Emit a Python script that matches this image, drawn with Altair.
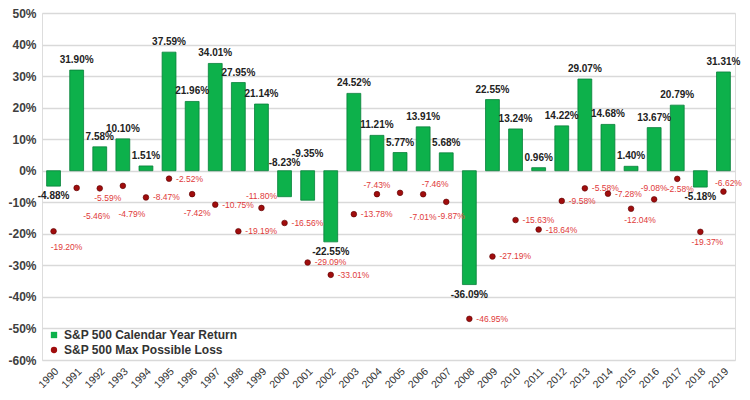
import altair as alt
import pandas as pd

years = list(range(1990, 2020))
returns = [-4.88, 31.90, 7.58, 10.10, 1.51, 37.59, 21.96, 34.01, 27.95, 21.14,
           -8.23, -9.35, -22.55, 24.52, 11.21, 5.77, 13.91, 5.68, -36.09, 22.55,
           13.24, 0.96, 14.22, 29.07, 14.68, 1.40, 13.67, 20.79, -5.18, 31.31]
max_loss = [-19.20, -5.46, -5.59, -4.79, -8.47, -2.52, -7.42, -10.75, -19.19, -11.80,
            -16.56, -29.09, -33.01, -13.78, -7.43, -7.01, -7.46, -9.87, -46.95, -27.19,
            -15.63, -18.64, -9.58, -5.58, -7.28, -12.04, -9.08, -2.58, -19.37, -6.62]
y_ticks = [50, 40, 30, 20, 10, 0, -10, -20, -30, -40, -50, -60]

S1 = "S&P 500 Calendar Year Return"
S2 = "S&P 500 Max Possible Loss"

df = pd.DataFrame({"year": [str(y) for y in years], "ret": returns, "loss": max_loss})
df["ret_label"] = df["ret"].map(lambda v: f"{v:.2f}%")
df["loss_label"] = df["loss"].map(lambda v: f"{v:.2f}%")
df["s1"] = S1
df["s2"] = S2

FONT = "Liberation Sans"
GREEN = "#0db14b"
GREEN_DARK = "#08803a"
DOT = "#a00d0d"
RED_TXT = "#e03a3a"

xenc = alt.X("year:N", title=None,
             scale=alt.Scale(paddingInner=0.4, paddingOuter=0.2),
             axis=alt.Axis(labelAngle=-45, labelFont=FONT, labelFontSize=10.5,
                           labelColor="#333333", ticks=False, domain=False,
                           labelPadding=6))
yscale = alt.Scale(domain=[-60, 50], nice=False)
yaxis = alt.Axis(values=y_ticks, labelExpr="datum.value + '%'",
                 labelFont=FONT, labelFontSize=12, labelFontWeight="bold",
                 labelColor="#404040", ticks=False, domain=False,
                 labelOverlap=False, gridColor="#d9d9d9", gridWidth=1.5,
                 labelPadding=6)


def yenc(field):
    return alt.Y(field, title=None, scale=yscale, axis=yaxis)


yzero = alt.YDatum(0, scale=yscale, axis=yaxis)

base = alt.Chart(df)

color_scale = alt.Scale(domain=[S1, S2], range=[GREEN, DOT])
shape_scale = alt.Scale(domain=[S1, S2], range=["square", "circle"])

bars = base.mark_bar(stroke=GREEN_DARK, strokeWidth=0.8).encode(
    x=xenc,
    y=yenc("ret:Q"),
    color=alt.Color("s1:N", scale=color_scale, title=None,
                    legend=alt.Legend(orient="none", legendX=6, legendY=316,
                                      labelFont=FONT, labelFontSize=12,
                                      labelFontWeight="bold", labelColor="#333333",
                                      labelLimit=400, symbolSize=40, rowPadding=3,
                                      symbolStrokeWidth=0)),
)

points = base.mark_point(filled=True, size=32, stroke="#5a0000", strokeWidth=0.6,
                         opacity=1).encode(
    x=xenc,
    y=yenc("loss:Q"),
    color=alt.Color("s2:N", scale=color_scale, title=None),
    shape=alt.Shape("s2:N", scale=shape_scale, title=None),
)

# bar labels
pos_lbl = base.transform_filter("datum.ret >= 0").mark_text(
    font=FONT, fontSize=10, fontWeight="bold", color="#222222",
    baseline="bottom", dy=-5).encode(x=xenc, y=yenc("ret:Q"), text="ret_label:N")
neg_above_years = ["2000", "2001"]
neg_below = base.transform_filter("datum.ret < 0").transform_filter(
    alt.FieldOneOfPredicate(field="year", oneOf=neg_above_years).__invert__()
).mark_text(font=FONT, fontSize=10, fontWeight="bold", color="#222222",
            baseline="top", dy=5).encode(x=xenc, y=yenc("ret:Q"), text="ret_label:N")
neg_top_2000 = base.transform_filter("datum.year == '2000'").mark_text(
    font=FONT, fontSize=10, fontWeight="bold", color="#222222",
    baseline="bottom", dy=-3).encode(x=xenc, y=yzero, text="ret_label:N")
neg_top_2001 = base.transform_filter("datum.year == '2001'").mark_text(
    font=FONT, fontSize=10, fontWeight="bold", color="#222222",
    baseline="bottom", dy=-12).encode(x=xenc, y=yzero, text="ret_label:N")

# loss label placement (layout offsets: dx, dy)
special = {
    "1990": (13, 16), "1991": (20, 28), "1992": (8, 10), "1993": (9, 28),
    "1996": (5, 19), "1999": (0, -12), "2004": (0, -9), "2005": (23, 24),
    "2006": (12, -10), "2007": (5, 14), "2015": (9, 11), "2016": (0, -11),
    "2017": (3, 10), "2018": (7, 10), "2019": (5, -9),
}
groups = {}
for y, off in special.items():
    groups.setdefault(off, []).append(y)

loss_layers = []
right_lbl = base.transform_filter(
    alt.FieldOneOfPredicate(field="year", oneOf=list(special.keys())).__invert__()
).mark_text(font=FONT, fontSize=8.5, color=RED_TXT, align="left",
            baseline="middle", dx=7).encode(
    x=xenc, y=yenc("loss:Q"), text="loss_label:N")
loss_layers.append(right_lbl)
for (dx, dy), ys in groups.items():
    loss_layers.append(
        base.transform_filter(alt.FieldOneOfPredicate(field="year", oneOf=ys))
        .mark_text(font=FONT, fontSize=8.5, color=RED_TXT, align="center",
                   baseline="middle", dx=dx, dy=dy)
        .encode(x=xenc, y=yenc("loss:Q"), text="loss_label:N"))

chart = alt.layer(bars, points, pos_lbl, neg_below, neg_top_2000, neg_top_2001,
                  *loss_layers).properties(
    width=693, height=347,
    autosize=alt.AutoSizeParams(type="none"),
    padding={"left": 34, "top": 5, "right": 7, "bottom": 32},
).configure_view(stroke=None).configure(background="white")

chart.save("out.html", embed_options={"renderer": "svg", "actions": False})
